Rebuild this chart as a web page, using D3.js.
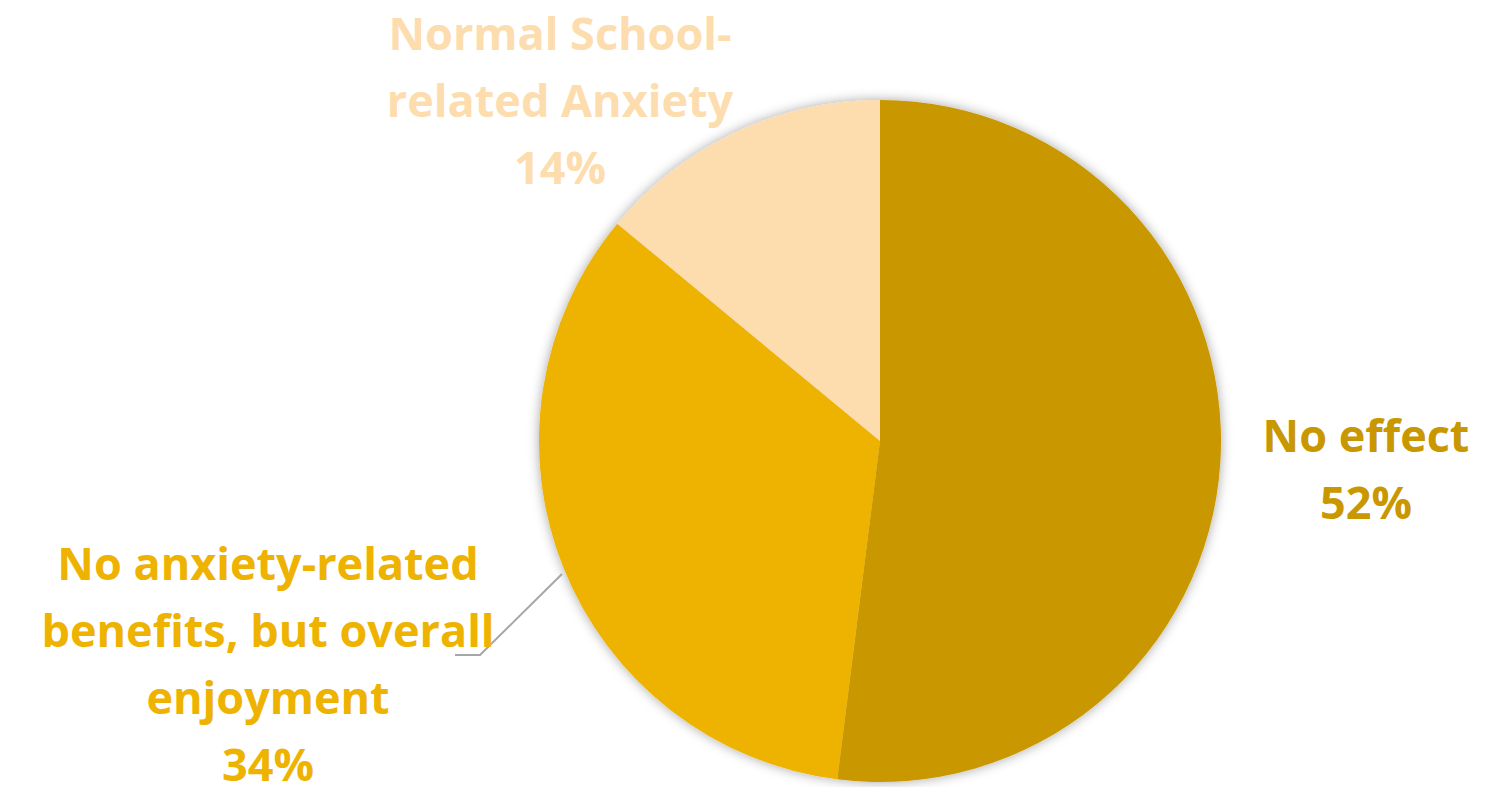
<!DOCTYPE html>
<html>
<head>
<meta charset="utf-8">
<script src="https://cdn.jsdelivr.net/npm/d3@7"></script>
<style>
  body { margin: 0; background: #fff; }
  text { font-family: "Open Sans", Lato, sans-serif; font-weight: bold; }
</style>
</head>
<body>
<svg id="chart" width="1499" height="787"></svg>
<script>
const categories = ["No effect", "No anxiety-related benefits, but overall enjoyment", "Normal School-related Anxiety"];
const values = [52, 34, 14];
const labelLines = [
  ["No effect", "52%"],
  ["No anxiety-related", "benefits, but overall", "enjoyment", "34%"],
  ["Normal School-", "related Anxiety", "14%"]
];
const sliceColors = ["#C99700", "#EEB200", "#FDDCAD"];

const width = 1499, height = 787;
const cx = 880, cy = 441, radius = 341;

const svg = d3.select("#chart");

// soft shadow around the pie
const defs = svg.append("defs");
const filter = defs.append("filter").attr("id", "shadow")
  .attr("x", "-20%").attr("y", "-20%").attr("width", "140%").attr("height", "140%");
filter.append("feDropShadow")
  .attr("dx", 0).attr("dy", 0).attr("stdDeviation", 6)
  .attr("flood-color", "#000").attr("flood-opacity", 0.35);

const pie = d3.pie().sort(null).value(d => d);
const arcs = pie(values);
const arc = d3.arc().innerRadius(0).outerRadius(radius);

const g = svg.append("g").attr("transform", `translate(${cx},${cy})`);

g.append("g").attr("filter", "url(#shadow)")
  .selectAll("path")
  .data(arcs)
  .enter()
  .append("path")
  .attr("d", arc)
  .attr("fill", (d, i) => sliceColors[i]);

// leader line for the left label
svg.append("polyline")
  .attr("points", "455,655 480,655 562,574")
  .attr("fill", "none")
  .attr("stroke", "#A6A6A6")
  .attr("stroke-width", 2);

// data labels
const labelPos = [
  { x: 1366, y: 452 },
  { x: 268, y: 580 },
  { x: 560, y: 50 }
];
const lineGap = 67;

labelLines.forEach((lines, i) => {
  const t = svg.append("text")
    .attr("text-anchor", "middle")
    .style("font-size", "45px")
    .style("fill", sliceColors[i]);
  lines.forEach((line, j) => {
    t.append("tspan")
      .attr("x", labelPos[i].x)
      .attr("y", labelPos[i].y + j * lineGap)
      .text(line);
  });
});
</script>
</body>
</html>
